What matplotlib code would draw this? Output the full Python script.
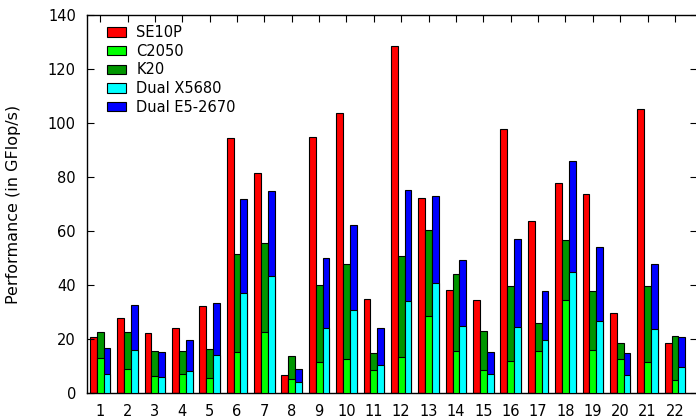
import numpy as np
import matplotlib
matplotlib.use("Agg")
import matplotlib.pyplot as plt
from matplotlib.patches import Patch

plt.rcParams.update({
    "font.family": "DejaVu Sans",
    "font.size": 10.5,
})

groups = list(range(1, 23))
se10p = [21.0, 27.8, 22.2, 24.1, 32.3, 94.4, 81.7, 6.7, 94.7, 103.6, 35.0,
         128.4, 72.2, 38.4, 34.7, 97.9, 63.9, 78.0, 73.6, 29.9, 105.3, 18.6]
c2050 = [13.0, 9.0, 6.4, 7.1, 5.8, 15.2, 22.8, 5.3, 11.5, 12.6, 8.6,
         13.3, 28.7, 15.6, 8.6, 11.9, 15.6, 34.7, 16.2, 12.6, 11.7, 4.9]
k20 = [22.8, 22.6, 15.6, 15.8, 16.3, 51.5, 55.6, 13.8, 39.9, 47.8, 14.8,
       50.9, 60.5, 44.2, 23.2, 39.7, 25.9, 56.8, 37.9, 18.7, 39.7, 21.1]
x5680 = [7.1, 16.0, 6.2, 8.4, 14.1, 37.1, 43.3, 4.3, 24.3, 30.9, 10.5,
         34.3, 41.0, 24.8, 7.1, 24.6, 19.9, 45.0, 26.8, 6.9, 23.8, 9.9]
e52670 = [16.7, 32.8, 15.3, 19.6, 33.6, 71.9, 74.8, 8.9, 50.1, 62.2, 24.1,
          75.2, 73.2, 49.5, 15.3, 57.1, 37.8, 85.9, 54.1, 14.8, 47.8, 20.9]

x = np.array(groups, dtype=float)
w = 0.25

fig = plt.figure(figsize=(6.96, 4.19), dpi=100)
ax = fig.add_axes([87 / 696, 25.7 / 419, 1.002 - 87 / 696, 378.3 / 419])

bar_kw = dict(width=w, edgecolor="black", linewidth=0.8)
ax.bar(x - w, se10p, color="#ff0000", **bar_kw)
ax.bar(x, k20, color="#009600", zorder=2, **bar_kw)
ax.bar(x, c2050, color="#00ff00", zorder=3, **bar_kw)
ax.bar(x + w, e52670, color="#0000ff", zorder=2, **bar_kw)
ax.bar(x + w, x5680, color="#00ffff", zorder=3, **bar_kw)

# legend order as in the original (greens then blues)
handles = [
    Patch(facecolor="#ff0000", edgecolor="black", linewidth=0.8, label="SE10P"),
    Patch(facecolor="#00ff00", edgecolor="black", linewidth=0.8, label="C2050"),
    Patch(facecolor="#009600", edgecolor="black", linewidth=0.8, label="K20"),
    Patch(facecolor="#00ffff", edgecolor="black", linewidth=0.8, label="Dual X5680"),
    Patch(facecolor="#0000ff", edgecolor="black", linewidth=0.8, label="Dual E5-2670"),
]
ax.legend(handles=handles, loc="upper left", frameon=False, fontsize=10.5,
          handlelength=1.3, handleheight=0.6, handletextpad=0.7,
          labelspacing=0.25, borderaxespad=0.3, bbox_to_anchor=(0.016, 1.0))

ax.set_xlim(0.52, 22.82)
ax.set_ylim(0, 140)
ax.set_xticks(groups)
ax.set_yticks(range(0, 141, 20))
ax.tick_params(direction="in", top=True, right=True, length=5, width=0.8,
               labelsize=10.5, pad=8)
ax.tick_params(axis="x", bottom=False)
for s in ax.spines.values():
    s.set_linewidth(1.0)

ax.set_ylabel("Performance (in GFlop/s)", fontsize=11.5)
ax.yaxis.set_label_coords(-0.108, 0.5)

fig.savefig("out.png", dpi=100)
